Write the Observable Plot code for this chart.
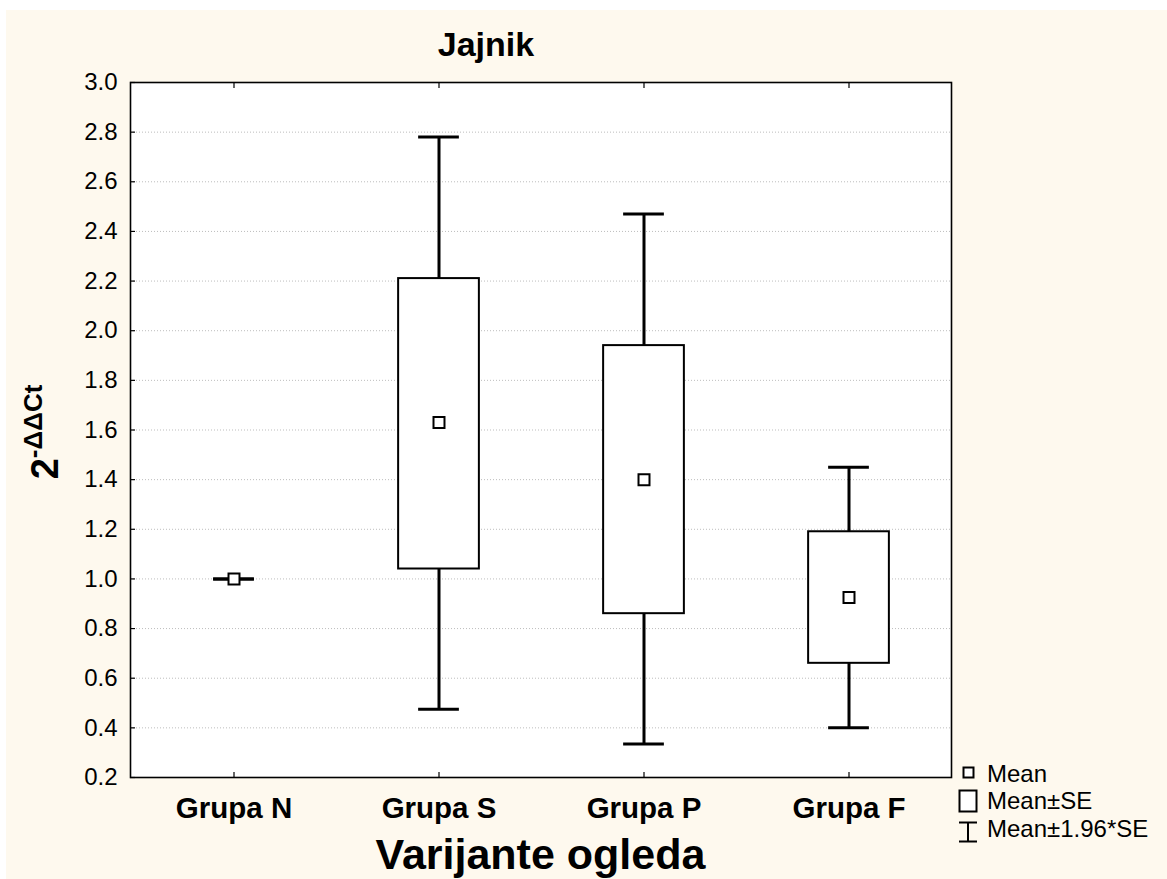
<!DOCTYPE html>
<html><head><meta charset="utf-8">
<script src="https://cdn.jsdelivr.net/npm/d3@7"></script>
<script src="https://cdn.jsdelivr.net/npm/@observablehq/plot@0.6"></script>
<style>html,body{margin:0;padding:0;background:#fff} svg{display:block}</style>
</head><body><div id="chart"></div>
<script>
const groups = ["Grupa N", "Grupa S", "Grupa P", "Grupa F"];
const means  = [1.00, 1.63, 1.40, 0.925];
const seLow  = [1.00, 1.04, 0.86, 0.66];
const seHigh = [1.00, 2.21, 1.94, 1.19];
const ciLow  = [1.00, 0.475, 0.335, 0.40];
const ciHigh = [1.00, 2.78, 2.47, 1.45];
const yTicks = [0.2, 0.4, 0.6, 0.8, 1.0, 1.2, 1.4, 1.6, 1.8, 2.0, 2.2, 2.4, 2.6, 2.8, 3.0];
const gridTicks = [0.4, 0.6, 0.8, 1.0, 1.2, 1.4, 1.6, 1.8, 2.0, 2.2, 2.4, 2.6, 2.8];
const title = "Jajnik";
const xLabel = "Varijante ogleda";
const legendItems = ["Mean", "Mean±SE", "Mean±1.96*SE"];

const data = groups.map((g, i) => ({group: g, mean: means[i], seLow: seLow[i], seHigh: seHigh[i], ciLow: ciLow[i], ciHigh: ciHigh[i]}));

const W = 1167, H = 879;
const mL = 130, mR = 216, mT = 82, mB = 102;
const band = (W - mL - mR) / groups.length;
const boxW = 81, capW = 41;
const boxInset = (band - boxW) / 2, capInset = (band - capW) / 2;

const plot = Plot.plot({
  width: W, height: H,
  marginLeft: mL, marginRight: mR, marginTop: mT, marginBottom: mB,
  style: {fontFamily: "'Liberation Sans', Arial, sans-serif", background: "transparent", color: "#000"},
  x: {type: "band", domain: groups, padding: 0},
  y: {domain: [0.2, 3.0]},
  marks: [
    Plot.frame({fill: "#fff", stroke: null}),
    Plot.gridY(gridTicks, {stroke: "#bdbdbd", strokeOpacity: 1, strokeDasharray: "1,2", strokeWidth: 1}),
    Plot.axisY(yTicks, {tickSize: -5, tickPadding: 18, fontSize: 24, tickFormat: d3.format(".1f"), label: null, strokeWidth: 1.2}),
    Plot.axisX({anchor: "bottom", tickSize: -5, tickPadding: 25, fontSize: 29.5, fontWeight: "bold", label: null, strokeWidth: 1.2}),
    Plot.axisX({anchor: "top", tickSize: -5, tickFormat: () => "", label: null, strokeWidth: 1.2}),
    Plot.ruleX(data, {x: "group", y1: "ciLow", y2: "ciHigh", stroke: "#000", strokeWidth: 3}),
    Plot.barY(data.filter(d => d.seHigh > d.seLow), {x: "group", y1: "seLow", y2: "seHigh", fill: "#fff", stroke: "#000", strokeWidth: 2, insetLeft: boxInset, insetRight: boxInset}),
    Plot.tickY(data, {x: "group", y: "ciHigh", stroke: "#000", strokeWidth: 3, insetLeft: capInset, insetRight: capInset}),
    Plot.tickY(data, {x: "group", y: "ciLow", stroke: "#000", strokeWidth: 3, insetLeft: capInset, insetRight: capInset}),
    Plot.dot(data, {x: "group", y: "mean", symbol: "square", r: 6.2, fill: "#fff", stroke: "#000", strokeWidth: 2}),
    Plot.frame({stroke: "#000", strokeWidth: 1.6})
  ]
});

const svg = d3.select(plot);
svg.insert("rect", ":first-child").attr("x", 6).attr("y", 10).attr("width", W - 6).attr("height", H - 10).attr("fill", "#fef9ee");

const ff = "'Liberation Sans', Arial, sans-serif";
svg.append("text").attr("x", 486).attr("y", 56).attr("text-anchor", "middle")
  .attr("font-family", ff).attr("font-size", 34).attr("font-weight", "bold").attr("fill", "#000").text(title);

const yl = svg.append("text").attr("transform", "translate(58,432) rotate(-90)").attr("text-anchor", "middle")
  .attr("font-family", ff).attr("font-weight", "bold").attr("fill", "#000");
yl.append("tspan").attr("font-size", 38).text("2");
yl.append("tspan").attr("font-size", 26).attr("dy", -16).text("-ΔΔCt");

svg.append("text").attr("x", (mL + W - mR) / 2).attr("y", 869).attr("text-anchor", "middle")
  .attr("font-family", ff).attr("font-size", 43).attr("font-weight", "bold").attr("fill", "#000").text(xLabel);

// legend
const lg = svg.append("g").attr("font-family", ff).attr("font-size", 24).attr("fill", "#000").attr("text-anchor", "start");
lg.append("rect").attr("x", 963.5).attr("y", 767.5).attr("width", 10).attr("height", 10).attr("fill", "#fff").attr("stroke", "#000").attr("stroke-width", 2);
lg.append("rect").attr("x", 959.5).attr("y", 790.5).attr("width", 17).attr("height", 21).attr("fill", "#fff").attr("stroke", "#000").attr("stroke-width", 2);
lg.append("path").attr("d", "M959,822.5H977M968,822.5V841.5M959,841.5H977").attr("fill", "none").attr("stroke", "#000").attr("stroke-width", 2);
[782, 809, 837].forEach((y, i) => lg.append("text").attr("x", 987).attr("y", y).attr("text-anchor", "start").text(legendItems[i]));

document.getElementById("chart").appendChild(plot);
</script>
</body></html>
